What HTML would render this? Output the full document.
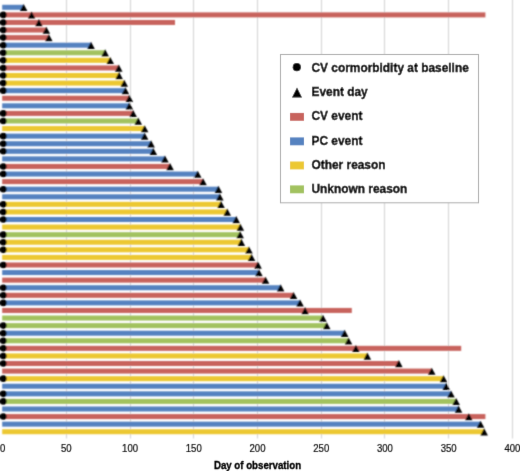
<!DOCTYPE html><html><head><meta charset="utf-8"><style>html,body{margin:0;padding:0;background:#fff;}svg{display:block;}text{font-family:"Liberation Sans",sans-serif;}</style></head><body>
<svg width="520" height="471" viewBox="0 0 520 471">
<defs><filter id="b" x="0" y="0" width="520" height="471" filterUnits="userSpaceOnUse"><feConvolveMatrix order="3" kernelMatrix="1 2 1 2 6 2 1 2 1" divisor="18" edgeMode="duplicate" preserveAlpha="false"/></filter><filter id="t" x="0" y="0" width="520" height="471" filterUnits="userSpaceOnUse"><feConvolveMatrix order="3" kernelMatrix="0 1 0 1 10 1 0 1 0" divisor="14" edgeMode="duplicate" preserveAlpha="false"/></filter></defs>
<rect x="0" y="0" width="520" height="471" fill="#fff"/>
<g filter="url(#b)">
<line x1="66.50" y1="0" x2="66.50" y2="438.5" stroke="#D2D2D2" stroke-width="1"/>
<line x1="130.50" y1="0" x2="130.50" y2="438.5" stroke="#D2D2D2" stroke-width="1"/>
<line x1="193.50" y1="0" x2="193.50" y2="438.5" stroke="#D2D2D2" stroke-width="1"/>
<line x1="257.50" y1="0" x2="257.50" y2="438.5" stroke="#D2D2D2" stroke-width="1"/>
<line x1="321.50" y1="0" x2="321.50" y2="438.5" stroke="#D2D2D2" stroke-width="1"/>
<line x1="384.50" y1="0" x2="384.50" y2="438.5" stroke="#D2D2D2" stroke-width="1"/>
<line x1="448.50" y1="0" x2="448.50" y2="438.5" stroke="#D2D2D2" stroke-width="1"/>
<line x1="512.50" y1="0" x2="512.50" y2="438.5" stroke="#D2D2D2" stroke-width="1"/>
<rect x="2.2" y="4.80" width="21.40" height="5.0" fill="#5482C0"/>
<rect x="2.2" y="12.38" width="483.20" height="5.0" fill="#C8635D"/>
<rect x="2.2" y="19.96" width="172.80" height="5.0" fill="#C8635D"/>
<rect x="2.2" y="27.54" width="44.10" height="5.0" fill="#C8635D"/>
<rect x="2.2" y="35.12" width="46.60" height="5.0" fill="#C8635D"/>
<rect x="2.2" y="42.69" width="88.80" height="5.0" fill="#5482C0"/>
<rect x="2.2" y="50.27" width="102.90" height="5.0" fill="#A2C25E"/>
<rect x="2.2" y="57.85" width="108.00" height="5.0" fill="#ECC832"/>
<rect x="2.2" y="65.43" width="116.50" height="5.0" fill="#C8635D"/>
<rect x="2.2" y="73.01" width="116.90" height="5.0" fill="#ECC832"/>
<rect x="2.2" y="80.59" width="122.00" height="5.0" fill="#ECC832"/>
<rect x="2.2" y="88.17" width="123.20" height="5.0" fill="#5482C0"/>
<rect x="2.2" y="95.75" width="127.10" height="5.0" fill="#C8635D"/>
<rect x="2.2" y="103.33" width="127.10" height="5.0" fill="#5482C0"/>
<rect x="2.2" y="110.91" width="130.90" height="5.0" fill="#C8635D"/>
<rect x="2.2" y="118.48" width="136.00" height="5.0" fill="#A2C25E"/>
<rect x="2.2" y="126.06" width="142.40" height="5.0" fill="#ECC832"/>
<rect x="2.2" y="133.64" width="142.40" height="5.0" fill="#5482C0"/>
<rect x="2.2" y="141.22" width="148.80" height="5.0" fill="#5482C0"/>
<rect x="2.2" y="148.80" width="151.10" height="5.0" fill="#5482C0"/>
<rect x="2.2" y="156.38" width="162.70" height="5.0" fill="#5482C0"/>
<rect x="2.2" y="163.96" width="167.80" height="5.0" fill="#C8635D"/>
<rect x="2.2" y="171.54" width="195.50" height="5.0" fill="#5482C0"/>
<rect x="2.2" y="179.12" width="200.80" height="5.0" fill="#C8635D"/>
<rect x="2.2" y="186.70" width="216.20" height="5.0" fill="#5482C0"/>
<rect x="2.2" y="194.28" width="217.60" height="5.0" fill="#5482C0"/>
<rect x="2.2" y="201.85" width="218.80" height="5.0" fill="#ECC832"/>
<rect x="2.2" y="209.43" width="225.00" height="5.0" fill="#ECC832"/>
<rect x="2.2" y="217.01" width="234.00" height="5.0" fill="#5482C0"/>
<rect x="2.2" y="224.59" width="238.10" height="5.0" fill="#ECC832"/>
<rect x="2.2" y="232.17" width="237.90" height="5.0" fill="#A2C25E"/>
<rect x="2.2" y="239.75" width="239.10" height="5.0" fill="#ECC832"/>
<rect x="2.2" y="247.33" width="246.70" height="5.0" fill="#ECC832"/>
<rect x="2.2" y="254.91" width="249.30" height="5.0" fill="#ECC832"/>
<rect x="2.2" y="262.49" width="255.80" height="5.0" fill="#C8635D"/>
<rect x="2.2" y="270.06" width="256.70" height="5.0" fill="#5482C0"/>
<rect x="2.2" y="277.64" width="263.30" height="5.0" fill="#C8635D"/>
<rect x="2.2" y="285.22" width="278.40" height="5.0" fill="#5482C0"/>
<rect x="2.2" y="292.80" width="291.30" height="5.0" fill="#C8635D"/>
<rect x="2.2" y="300.38" width="297.80" height="5.0" fill="#5482C0"/>
<rect x="2.2" y="307.96" width="349.60" height="5.0" fill="#C8635D"/>
<rect x="2.2" y="315.54" width="320.70" height="5.0" fill="#A2C25E"/>
<rect x="2.2" y="323.12" width="324.50" height="5.0" fill="#A2C25E"/>
<rect x="2.2" y="330.70" width="342.40" height="5.0" fill="#5482C0"/>
<rect x="2.2" y="338.28" width="346.30" height="5.0" fill="#A2C25E"/>
<rect x="2.2" y="345.86" width="459.00" height="5.0" fill="#C8635D"/>
<rect x="2.2" y="353.43" width="365.10" height="5.0" fill="#ECC832"/>
<rect x="2.2" y="361.01" width="396.60" height="5.0" fill="#C8635D"/>
<rect x="2.2" y="368.59" width="429.50" height="5.0" fill="#C8635D"/>
<rect x="2.2" y="376.17" width="441.30" height="5.0" fill="#ECC832"/>
<rect x="2.2" y="383.75" width="444.00" height="5.0" fill="#5482C0"/>
<rect x="2.2" y="391.33" width="448.80" height="5.0" fill="#5482C0"/>
<rect x="2.2" y="398.91" width="453.90" height="5.0" fill="#A2C25E"/>
<rect x="2.2" y="406.49" width="456.30" height="5.0" fill="#5482C0"/>
<rect x="2.2" y="414.07" width="483.20" height="5.0" fill="#C8635D"/>
<rect x="2.2" y="421.64" width="478.30" height="5.0" fill="#5482C0"/>
<rect x="2.2" y="429.22" width="481.90" height="5.0" fill="#ECC832"/>
<path d="M23.60 3.90L27.40 11.00L19.80 11.00Z" fill="#000"/>
<circle cx="3.3" cy="14.88" r="3.3" fill="#000"/>
<path d="M31.60 11.48L35.40 18.58L27.80 18.58Z" fill="#000"/>
<circle cx="3.3" cy="22.46" r="3.3" fill="#000"/>
<path d="M38.90 19.06L42.70 26.16L35.10 26.16Z" fill="#000"/>
<circle cx="3.3" cy="30.04" r="3.3" fill="#000"/>
<path d="M46.30 26.64L50.10 33.74L42.50 33.74Z" fill="#000"/>
<circle cx="3.3" cy="37.62" r="3.3" fill="#000"/>
<path d="M48.80 34.22L52.60 41.32L45.00 41.32Z" fill="#000"/>
<circle cx="3.3" cy="45.19" r="3.3" fill="#000"/>
<path d="M91.00 41.79L94.80 48.89L87.20 48.89Z" fill="#000"/>
<circle cx="3.3" cy="52.77" r="3.3" fill="#000"/>
<path d="M105.10 49.37L108.90 56.47L101.30 56.47Z" fill="#000"/>
<circle cx="3.3" cy="60.35" r="3.3" fill="#000"/>
<path d="M110.20 56.95L114.00 64.05L106.40 64.05Z" fill="#000"/>
<circle cx="3.3" cy="67.93" r="3.3" fill="#000"/>
<path d="M118.70 64.53L122.50 71.63L114.90 71.63Z" fill="#000"/>
<circle cx="3.3" cy="75.51" r="3.3" fill="#000"/>
<path d="M119.10 72.11L122.90 79.21L115.30 79.21Z" fill="#000"/>
<circle cx="3.3" cy="83.09" r="3.3" fill="#000"/>
<path d="M124.20 79.69L128.00 86.79L120.40 86.79Z" fill="#000"/>
<circle cx="3.3" cy="90.67" r="3.3" fill="#000"/>
<path d="M125.40 87.27L129.20 94.37L121.60 94.37Z" fill="#000"/>
<path d="M129.30 94.85L133.10 101.95L125.50 101.95Z" fill="#000"/>
<path d="M129.30 102.43L133.10 109.53L125.50 109.53Z" fill="#000"/>
<circle cx="3.3" cy="113.41" r="3.3" fill="#000"/>
<path d="M133.10 110.01L136.90 117.11L129.30 117.11Z" fill="#000"/>
<circle cx="3.3" cy="120.98" r="3.3" fill="#000"/>
<path d="M138.20 117.58L142.00 124.69L134.40 124.69Z" fill="#000"/>
<path d="M144.60 125.16L148.40 132.26L140.80 132.26Z" fill="#000"/>
<circle cx="3.3" cy="136.14" r="3.3" fill="#000"/>
<path d="M144.60 132.74L148.40 139.84L140.80 139.84Z" fill="#000"/>
<circle cx="3.3" cy="143.72" r="3.3" fill="#000"/>
<path d="M151.00 140.32L154.80 147.42L147.20 147.42Z" fill="#000"/>
<circle cx="3.3" cy="151.30" r="3.3" fill="#000"/>
<path d="M153.30 147.90L157.10 155.00L149.50 155.00Z" fill="#000"/>
<path d="M164.90 155.48L168.70 162.58L161.10 162.58Z" fill="#000"/>
<circle cx="3.3" cy="166.46" r="3.3" fill="#000"/>
<path d="M170.00 163.06L173.80 170.16L166.20 170.16Z" fill="#000"/>
<circle cx="3.3" cy="174.04" r="3.3" fill="#000"/>
<path d="M197.70 170.64L201.50 177.74L193.90 177.74Z" fill="#000"/>
<path d="M203.00 178.22L206.80 185.32L199.20 185.32Z" fill="#000"/>
<circle cx="3.3" cy="189.20" r="3.3" fill="#000"/>
<path d="M218.40 185.80L222.20 192.90L214.60 192.90Z" fill="#000"/>
<path d="M219.80 193.38L223.60 200.47L216.00 200.47Z" fill="#000"/>
<circle cx="3.3" cy="204.35" r="3.3" fill="#000"/>
<path d="M221.00 200.95L224.80 208.05L217.20 208.05Z" fill="#000"/>
<circle cx="3.3" cy="211.93" r="3.3" fill="#000"/>
<path d="M227.20 208.53L231.00 215.63L223.40 215.63Z" fill="#000"/>
<circle cx="3.3" cy="219.51" r="3.3" fill="#000"/>
<path d="M236.20 216.11L240.00 223.21L232.40 223.21Z" fill="#000"/>
<path d="M240.30 223.69L244.10 230.79L236.50 230.79Z" fill="#000"/>
<circle cx="3.3" cy="234.67" r="3.3" fill="#000"/>
<path d="M240.10 231.27L243.90 238.37L236.30 238.37Z" fill="#000"/>
<circle cx="3.3" cy="242.25" r="3.3" fill="#000"/>
<path d="M241.30 238.85L245.10 245.95L237.50 245.95Z" fill="#000"/>
<circle cx="3.3" cy="249.83" r="3.3" fill="#000"/>
<path d="M248.90 246.43L252.70 253.53L245.10 253.53Z" fill="#000"/>
<path d="M251.50 254.01L255.30 261.11L247.70 261.11Z" fill="#000"/>
<circle cx="3.3" cy="264.99" r="3.3" fill="#000"/>
<path d="M258.00 261.59L261.80 268.69L254.20 268.69Z" fill="#000"/>
<path d="M258.90 269.17L262.70 276.26L255.10 276.26Z" fill="#000"/>
<path d="M265.50 276.74L269.30 283.84L261.70 283.84Z" fill="#000"/>
<circle cx="3.3" cy="287.72" r="3.3" fill="#000"/>
<path d="M280.60 284.32L284.40 291.42L276.80 291.42Z" fill="#000"/>
<circle cx="3.3" cy="295.30" r="3.3" fill="#000"/>
<path d="M293.50 291.90L297.30 299.00L289.70 299.00Z" fill="#000"/>
<circle cx="3.3" cy="302.88" r="3.3" fill="#000"/>
<path d="M300.00 299.48L303.80 306.58L296.20 306.58Z" fill="#000"/>
<path d="M305.10 307.06L308.90 314.16L301.30 314.16Z" fill="#000"/>
<path d="M322.90 314.64L326.70 321.74L319.10 321.74Z" fill="#000"/>
<circle cx="3.3" cy="325.62" r="3.3" fill="#000"/>
<path d="M326.70 322.22L330.50 329.32L322.90 329.32Z" fill="#000"/>
<circle cx="3.3" cy="333.20" r="3.3" fill="#000"/>
<path d="M344.60 329.80L348.40 336.90L340.80 336.90Z" fill="#000"/>
<circle cx="3.3" cy="340.78" r="3.3" fill="#000"/>
<path d="M348.50 337.38L352.30 344.48L344.70 344.48Z" fill="#000"/>
<circle cx="3.3" cy="348.36" r="3.3" fill="#000"/>
<path d="M355.90 344.96L359.70 352.06L352.10 352.06Z" fill="#000"/>
<circle cx="3.3" cy="355.93" r="3.3" fill="#000"/>
<path d="M367.30 352.53L371.10 359.63L363.50 359.63Z" fill="#000"/>
<circle cx="3.3" cy="363.51" r="3.3" fill="#000"/>
<path d="M398.80 360.11L402.60 367.21L395.00 367.21Z" fill="#000"/>
<path d="M431.70 367.69L435.50 374.79L427.90 374.79Z" fill="#000"/>
<circle cx="3.3" cy="378.67" r="3.3" fill="#000"/>
<path d="M443.50 375.27L447.30 382.37L439.70 382.37Z" fill="#000"/>
<path d="M446.20 382.85L450.00 389.95L442.40 389.95Z" fill="#000"/>
<circle cx="3.3" cy="393.83" r="3.3" fill="#000"/>
<path d="M451.00 390.43L454.80 397.53L447.20 397.53Z" fill="#000"/>
<circle cx="3.3" cy="401.41" r="3.3" fill="#000"/>
<path d="M456.10 398.01L459.90 405.11L452.30 405.11Z" fill="#000"/>
<path d="M458.50 405.59L462.30 412.69L454.70 412.69Z" fill="#000"/>
<circle cx="3.3" cy="416.57" r="3.3" fill="#000"/>
<path d="M468.80 413.17L472.60 420.27L465.00 420.27Z" fill="#000"/>
<path d="M480.50 420.75L484.30 427.84L476.70 427.84Z" fill="#000"/>
<path d="M484.10 428.32L487.90 435.42L480.30 435.42Z" fill="#000"/>
</g><g filter="url(#t)">
<text transform="translate(2.60,451.7) scale(1,1.15)" font-size="9.6" fill="#111" stroke="#111" stroke-width="0.2" text-anchor="middle">0</text>
<text transform="translate(66.33,451.7) scale(1,1.15)" font-size="9.6" fill="#111" stroke="#111" stroke-width="0.2" text-anchor="middle">50</text>
<text transform="translate(130.05,451.7) scale(1,1.15)" font-size="9.6" fill="#111" stroke="#111" stroke-width="0.2" text-anchor="middle">100</text>
<text transform="translate(193.77,451.7) scale(1,1.15)" font-size="9.6" fill="#111" stroke="#111" stroke-width="0.2" text-anchor="middle">150</text>
<text transform="translate(257.50,451.7) scale(1,1.15)" font-size="9.6" fill="#111" stroke="#111" stroke-width="0.2" text-anchor="middle">200</text>
<text transform="translate(321.23,451.7) scale(1,1.15)" font-size="9.6" fill="#111" stroke="#111" stroke-width="0.2" text-anchor="middle">250</text>
<text transform="translate(384.95,451.7) scale(1,1.15)" font-size="9.6" fill="#111" stroke="#111" stroke-width="0.2" text-anchor="middle">300</text>
<text transform="translate(448.68,451.7) scale(1,1.15)" font-size="9.6" fill="#111" stroke="#111" stroke-width="0.2" text-anchor="middle">350</text>
<text transform="translate(512.40,451.7) scale(1,1.15)" font-size="9.6" fill="#111" stroke="#111" stroke-width="0.2" text-anchor="middle">400</text>
<text transform="translate(257.5,468.6) scale(1,1.2)" font-size="9.7" font-weight="bold" fill="#000" stroke="#000" stroke-width="0.3" text-anchor="middle">Day of observation</text>
<rect x="280.5" y="54.5" width="198" height="148.3" fill="#fff" stroke="#ABABAB" stroke-width="1"/>
<circle cx="296.8" cy="67.20" r="4.1" fill="#000"/>
<text transform="translate(311.5,71.60) scale(1,1.12)" font-size="11.9" font-weight="bold" fill="#000" stroke="#000" stroke-width="0.35">CV cormorbidity at baseline</text>
<path d="M297 87.60L302 97.40L292 97.40Z" fill="#000"/>
<text transform="translate(311.5,96.20) scale(1,1.12)" font-size="11.9" font-weight="bold" fill="#000" stroke="#000" stroke-width="0.35">Event day</text>
<rect x="290" y="112.90" width="14" height="7.9" fill="#C8635D"/>
<text transform="translate(311.5,120.20) scale(1,1.12)" font-size="11.9" font-weight="bold" fill="#000" stroke="#000" stroke-width="0.35">CV event</text>
<rect x="290" y="137.40" width="14" height="7.9" fill="#5482C0"/>
<text transform="translate(311.5,144.70) scale(1,1.12)" font-size="11.9" font-weight="bold" fill="#000" stroke="#000" stroke-width="0.35">PC event</text>
<rect x="290" y="161.50" width="14" height="7.9" fill="#ECC832"/>
<text transform="translate(311.5,168.80) scale(1,1.12)" font-size="11.9" font-weight="bold" fill="#000" stroke="#000" stroke-width="0.35">Other reason</text>
<rect x="290" y="185.40" width="14" height="7.9" fill="#A2C25E"/>
<text transform="translate(311.5,192.70) scale(1,1.12)" font-size="11.9" font-weight="bold" fill="#000" stroke="#000" stroke-width="0.35">Unknown reason</text>
</g></svg></body></html>
